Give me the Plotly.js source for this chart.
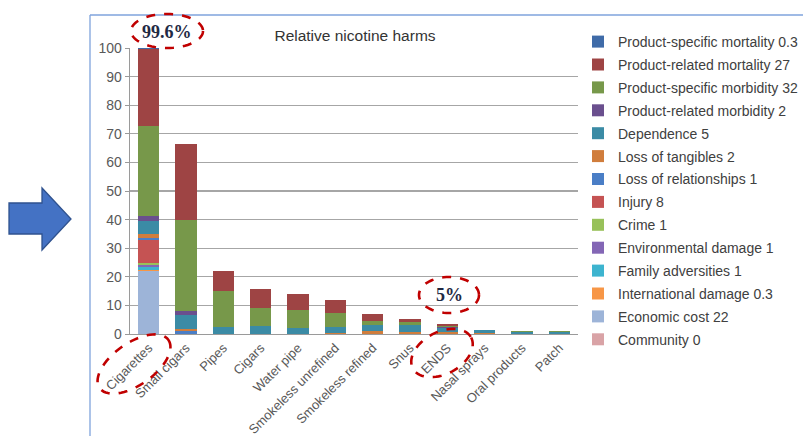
<!DOCTYPE html>
<html><head><meta charset="utf-8">
<script src="https://cdn.plot.ly/plotly-3.0.1.min.js"></script>
<style>html,body{margin:0;padding:0;background:#fff;}#chart{width:803px;height:436px;}</style>
</head><body><div id="chart"></div>
<script>
// ---- data ----
const categories = ['Cigarettes','Small cigars','Pipes','Cigars','Water pipe','Smokeless unrefined','Smokeless refined','Snus','ENDS','Nasal sprays','Oral products','Patch'];
// series listed bottom of stack -> top of stack
const seriesNames = ['Community 0','Economic cost 22','International damage 0.3','Family adversities 1','Environmental damage 1','Crime 1','Injury 8','Loss of relationships 1','Loss of tangibles 2','Dependence 5','Product-related morbidity 2','Product-specific morbidity 32','Product-related mortality 27','Product-specific mortality 0.3'];
const community        = [0,0,0,0,0,0,0,0,0,0,0,0];
const economicCost     = [22,0,0,0,0,0,0,0,0,0,0,0];
const internationalDmg = [0.3,0,0,0,0,0,0,0,0,0,0,0];
const familyAdv        = [1,0,0,0,0,0,0,0,0,0,0,0];
const environmentalDmg = [0.7,0,0,0,0,0,0,0,0,0,0,0];
const crime            = [1,0,0,0,0,0,0,0,0,0,0,0];
const injury           = [7.7,0,0,0,0,0,0,0,0,0,0,0];
const lossRelations    = [0.8,1,0,0,0,0,0,0,0,0,0,0];
const lossTangibles    = [1.4,0.6,0,0,0,0.3,1.0,0.7,0.6,0.3,0,0];
const dependence       = [4.6,5,2.6,2.8,2.1,2.3,2.1,2.4,1.5,1.0,0.8,0.7];
const prMorbidity      = [1.7,1.5,0,0,0,0,0,0,0.3,0,0,0];
const psMorbidity      = [31.5,31.7,12.5,6.2,6.3,4.9,1.6,1.0,0.4,0.2,0.4,0.2];
const prMortality      = [27,26.7,7,6.6,5.5,4.3,2.2,1.0,0.6,0,0,0];
const psMortality      = [0.3,0,0,0,0,0,0,0,0,0,0,0];
const seriesValues = [community,economicCost,internationalDmg,familyAdv,environmentalDmg,crime,injury,lossRelations,lossTangibles,dependence,prMorbidity,psMorbidity,prMortality,psMortality];
const seriesColors = ['#D9A3A6','#9DB4D8','#F79646','#3DB4CF','#8366B5','#98C15A','#C55353','#4A7EC6','#D07D3C','#3B8BA5','#6A4F8E','#77984A','#9E4444','#3F6BA8'];
const yTicks = [0,10,20,30,40,50,60,70,80,90,100];

// ---- geometry ----
const W = 803, H = 436;
const M = {l:130, r:225, t:48, b:102};
const PW = W - M.l - M.r, PH = H - M.t - M.b;
const px = x => (x - M.l) / PW;
const py = y => (H - M.b - y) / PH;

const traces = seriesNames.map((n,i) => ({
  type:'bar', name:n, x:categories, y:seriesValues[i],
  marker:{color:seriesColors[i], line:{width:0}},
  legendgroup:'g'+i, legendrank:100-i, hoverinfo:'name+y'
}));

function ellipsePath(cx, cy, a, b, angDeg){
  const t = angDeg*Math.PI/180; let d='';
  for(let k=0;k<=72;k++){
    const th = 2*Math.PI*k/72;
    const ex = a*Math.cos(th), ey = b*Math.sin(th);
    const X = cx + ex*Math.cos(t) - ey*Math.sin(t);
    const Y = cy + ex*Math.sin(t) + ey*Math.cos(t);
    d += (k?'L':'M') + px(X).toFixed(5) + ',' + py(Y).toFixed(5);
  }
  return d + 'Z';
}
const redDash = {color:'#C00000', width:2.6, dash:'dash'};
const arrowPts = [[9,203],[42,203],[42,188],[71,219],[42,250],[42,234],[9,234]];
const arrowPath = arrowPts.map((p,i)=>(i?'L':'M')+px(p[0]).toFixed(5)+','+py(p[1]).toFixed(5)).join('')+'Z';

const shapes = [
  {type:'line', xref:'paper', yref:'paper', x0:px(90), x1:px(803), y0:py(15), y1:py(15), line:{color:'#7FA3DC', width:1.3}},
  {type:'line', xref:'paper', yref:'paper', x0:px(90), x1:px(90), y0:py(15), y1:py(436), line:{color:'#7FA3DC', width:1.3}},
  {type:'path', xref:'paper', yref:'paper', path:arrowPath, fillcolor:'#4472C4', line:{color:'#2F528F', width:1.3}},
  {type:'path', xref:'paper', yref:'paper', path:ellipsePath(167,31,36,17,0), line:redDash},
  {type:'path', xref:'paper', yref:'paper', path:ellipsePath(449,295,30,18,0), line:redDash},
  {type:'path', xref:'paper', yref:'paper', path:ellipsePath(134,364,42,21,-35), line:redDash},
  {type:'path', xref:'paper', yref:'paper', path:ellipsePath(442,353,33,21,-28), line:redDash}
];

const annFont = {family:'Liberation Serif, Times New Roman, serif', size:18, color:'#1F2A44'};
const annotations = [
  {xref:'paper', yref:'paper', x:px(167), y:py(32), text:'<b>99.6%</b>', showarrow:false, font:annFont, xanchor:'center', yanchor:'middle'},
  {xref:'paper', yref:'paper', x:px(449), y:py(295), text:'<b>5%</b>', showarrow:false, font:annFont, xanchor:'center', yanchor:'middle'}
];

const layout = {
  width:W, height:H, margin:M,
  paper_bgcolor:'#fff', plot_bgcolor:'#fff',
  font:{family:'Liberation Sans, Arial, sans-serif', size:14, color:'#595959'},
  title:{text:'Relative nicotine harms', font:{size:15.5, color:'#333'}, x:px(355), xref:'paper', xanchor:'center', y:1-36/H, yanchor:'middle'},
  barmode:'stack', bargap:0.42,
  xaxis:{type:'category', tickangle:-45, showline:true, linecolor:'#9A9A9A', linewidth:1.3, ticks:'', tickfont:{size:13, color:'#595959'}, fixedrange:true},
  yaxis:{range:[0,100], tickvals:yTicks, showgrid:true, gridcolor:'#A6A6A6', gridwidth:1.2, showline:true, linecolor:'#9A9A9A', linewidth:1.3, ticks:'outside', ticklen:4, tickcolor:'#9A9A9A', tickfont:{size:14, color:'#595959'}, zeroline:false, fixedrange:true},
  legend:{xref:'container', yref:'container', x:(578)/W, y:1-26/H, xanchor:'left', yanchor:'top', traceorder:'grouped', tracegroupgap:1.7, maxheight:420, font:{size:14, color:'#404040'}, bgcolor:'rgba(0,0,0,0)'},
  shapes:shapes, annotations:annotations, showlegend:true
};
Plotly.newPlot('chart', traces, layout, {displayModeBar:false, staticPlot:true});
</script></body></html>
